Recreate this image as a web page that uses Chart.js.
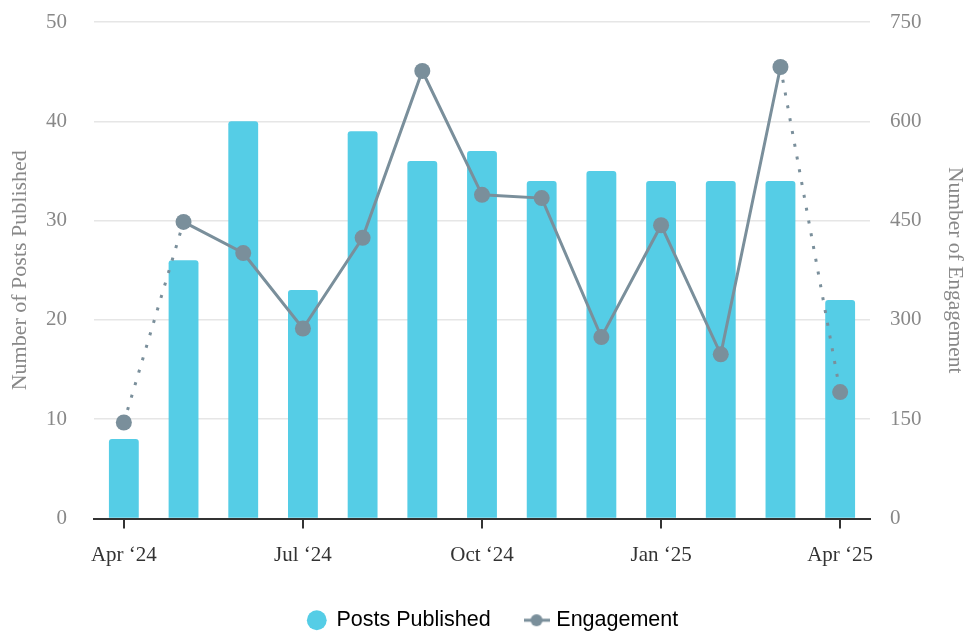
<!DOCTYPE html>
<html>
<head>
<meta charset="utf-8">
<script src="https://cdn.jsdelivr.net/npm/chart.js@4"></script>
<style>
  html, body { margin: 0; padding: 0; background: #fff; }
  #wrap { width: 970px; height: 632px; }
</style>
</head>
<body>
<div id="wrap"><canvas id="myChart"></canvas></div>
<script>
const months = ["Apr \u201824", "May \u201824", "Jun \u201824", "Jul \u201824", "Aug \u201824", "Sep \u201824",
  "Oct \u201824", "Nov \u201824", "Dec \u201824", "Jan \u201825", "Feb \u201825", "Mar \u201825", "Apr \u201825"];
const postsPublished = [8, 26, 40, 23, 39, 36, 37, 34, 35, 34, 34, 34, 22];
const engagement = [145, 448, 401, 287, 424, 676, 489, 484, 274, 443, 248, 682, 191];

const barColor = "#55cde6";
const lineColor = "#7a8f9b";
const serif = "'Liberation Serif', 'DejaVu Serif', serif";
const sans = "'Liberation Sans', Arial, sans-serif";

// legend icon for the line series: short line with a dot in the middle
const lineIcon = document.createElement("canvas");
lineIcon.width = 26;
lineIcon.height = 14;
const ic = lineIcon.getContext("2d");
ic.strokeStyle = lineColor;
ic.lineWidth = 3;
ic.beginPath();
ic.moveTo(0, 7);
ic.lineTo(26, 7);
ic.stroke();
ic.fillStyle = lineColor;
ic.beginPath();
ic.arc(13, 7, 6, 0, Math.PI * 2);
ic.fill();

const isEdge = c => c.p0DataIndex === 0 || c.p1DataIndex === months.length - 1;

const ctx = document.getElementById("myChart").getContext("2d");

const chart = new Chart(ctx, {
  data: {
    labels: months,
    datasets: [
      {
        type: "bar",
        label: "Posts Published",
        data: postsPublished,
        backgroundColor: barColor,
        borderRadius: { topLeft: 3, topRight: 3 },
        borderSkipped: "bottom",
        categoryPercentage: 1,
        barPercentage: 0.5,
        yAxisID: "y",
        order: 2
      },
      {
        type: "line",
        label: "Engagement",
        data: engagement,
        borderColor: lineColor,
        backgroundColor: lineColor,
        borderWidth: 3,
        pointRadius: 8,
        pointHoverRadius: 8,
        pointBorderWidth: 0,
        tension: 0,
        yAxisID: "y1",
        order: 1,
        segment: {
          // first and last month segments are dotted (partial months)
          borderDash: c => (isEdge(c) ? [3, 10] : undefined)
        }
      }
    ]
  },
  options: {
    responsive: true,
    maintainAspectRatio: false,
    animation: false,
    layout: { padding: { top: 0, left: 16, right: 0, bottom: -9 } },
    plugins: {
      legend: {
        position: "bottom",
        labels: {
          usePointStyle: true,
          color: "#333",
          font: { family: sans, size: 21.5 },
          padding: 1,
          boxHeight: 14,
          boxWidth: 18,
          generateLabels: c => [
            {
              // trailing spaces give the gap between the two legend items
              text: "Posts Published      ",
              fillStyle: barColor,
              strokeStyle: barColor,
              lineWidth: 0,
              pointStyle: "circle",
              datasetIndex: 0,
              hidden: false
            },
            {
              text: "Engagement",
              fillStyle: lineColor,
              strokeStyle: lineColor,
              lineWidth: 0,
              pointStyle: lineIcon,
              datasetIndex: 1,
              hidden: false
            }
          ]
        }
      },
      tooltip: { enabled: true }
    },
    scales: {
      x: {
        offset: true,
        afterFit: s => { s.height = 90; },
        grid: {
          offset: false,
          drawOnChartArea: false,
          drawTicks: true,
          tickLength: 10,
          tickColor: c => (c.index % 3 === 0 ? "#333" : "rgba(0,0,0,0)"),
          lineWidth: 2
        },
        border: { color: "#333", width: 2 },
        ticks: {
          autoSkip: false,
          maxRotation: 0,
          color: "#333",
          padding: 14,
          font: { family: serif, size: 21 },
          callback: (v, i) => (i % 3 === 0 ? months[i] : "")
        }
      },
      y: {
        position: "left",
        min: 0,
        max: 50,
        afterFit: s => { s.width = 78; s.paddingTop = 22; s.paddingBottom = 0; },
        ticks: {
          stepSize: 10,
          color: "#888",
          padding: 27,
          font: { family: serif, size: 21 }
        },
        grid: { color: "#e6e6e6", lineWidth: 1.5, drawTicks: false },
        border: { display: false },
        title: {
          display: true,
          text: "Number of Posts Published",
          color: "#888",
          font: { family: serif, size: 22 },
          padding: { top: -9, bottom: 0 }
        }
      },
      y1: {
        position: "right",
        min: 0,
        max: 750,
        afterFit: s => { s.width = 100; s.paddingTop = 22; s.paddingBottom = 0; },
        ticks: {
          stepSize: 150,
          color: "#888",
          padding: 20,
          font: { family: serif, size: 21 }
        },
        grid: { drawOnChartArea: false, drawTicks: false },
        border: { display: false },
        title: {
          display: true,
          text: "Number of Engagement",
          color: "#888",
          font: { family: serif, size: 21.5 },
          padding: { top: 2, bottom: 0 }
        }
      }
    }
  }
});
</script>
</body>
</html>
